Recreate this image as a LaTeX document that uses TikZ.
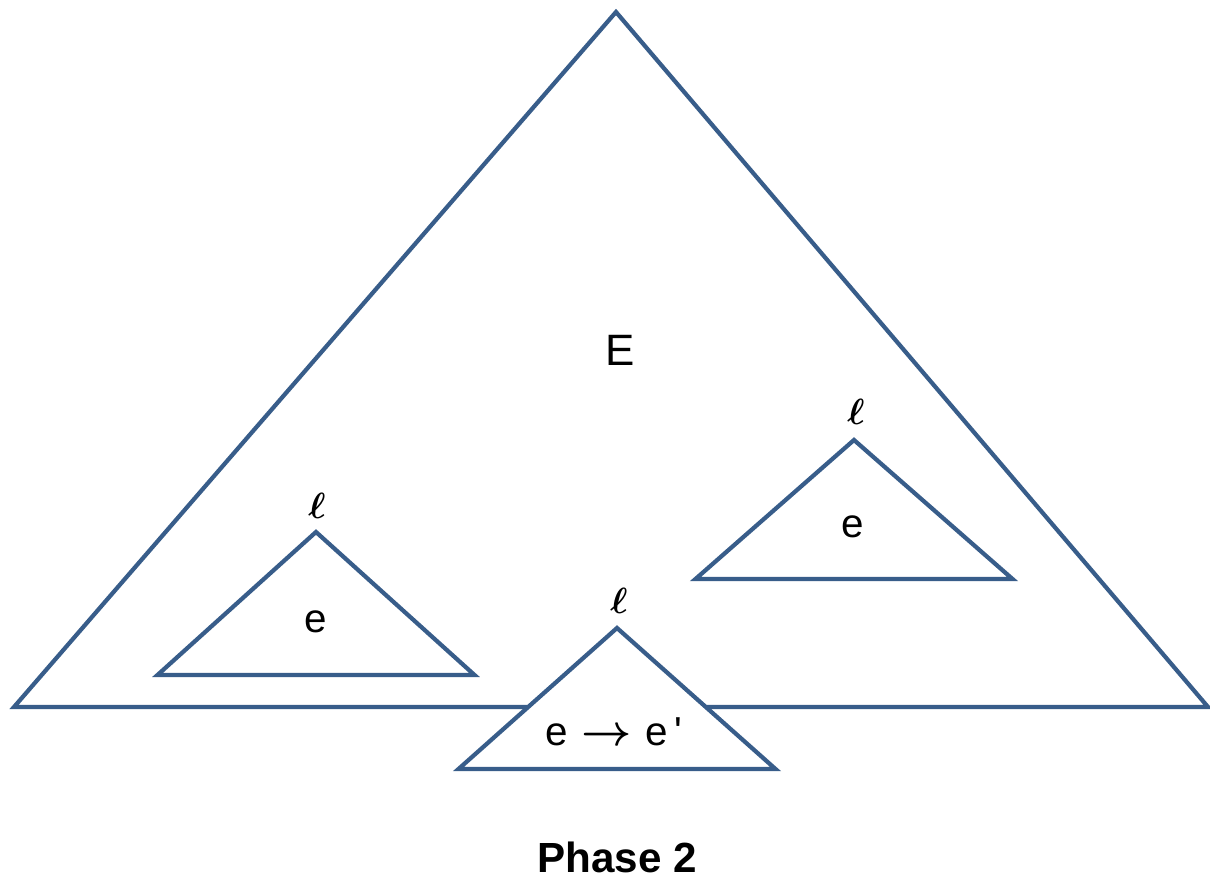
\documentclass[tikz,border=0pt]{standalone}
\usepackage{amsmath}
\usepackage{fontspec}
\setmainfont{Liberation Sans}
\usepackage{xcolor}
\usetikzlibrary{math}
\definecolor{edgeblue}{HTML}{385D8A}

\tikzset{
  tri/.style={draw=edgeblue,line width=2.4pt,line join=miter,fill=white},
  ell/.style={font=\fontsize{21}{21}\selectfont},
  lbl/.style={font=\fontsize{23}{23}\selectfont}
}

\begin{document}
\begin{tikzpicture}[x=0.02cm,y=-0.02cm]
\tikzmath{
\w=317;
\h=143;
}
\useasboundingbox (0,0) rectangle (1210,881);

%big one
\coordinate (Etop) at (616,12);
\draw[tri] (Etop) -- (14,707) -- (1208,707) -- cycle;
\node[font=\fontsize{25}{25}\selectfont] (Elbl) at (620,350) {E};

%left one
\coordinate (L) at (316,532);
\draw[tri] (L) -- +(-\w/2,\h) -- +(\w/2,\h) -- cycle;
\node[ell] (ellL) at (317,506) {$\boldsymbol{\ell}$};
\node[lbl] (eL) at (316,622) {e};

%right one
\coordinate (R) at (854,440);
\draw[tri] (R) -- +(-\w/2,139) -- +(\w/2,139) -- cycle;
\node[ell] (ellR) at (856,412) {$\boldsymbol{\ell}$};
\node[lbl] (eR) at (853,527) {e};

%bottom one, covers the base line
\coordinate (B) at (617,628);
\draw[tri] (B) -- +(-\w/2,141) -- +(\w/2,141) -- cycle;
\node[ell] (ellB) at (619,601) {$\boldsymbol{\ell}$};
\node[lbl] (eB) at (614,732) {e\,\,$\boldsymbol{\rightarrow}$\,\,e\,\textquotesingle};

\node[font=\bfseries\fontsize{24}{24}\selectfont] (phase) at (617,857) {Phase 2};
\end{tikzpicture}
\end{document}
